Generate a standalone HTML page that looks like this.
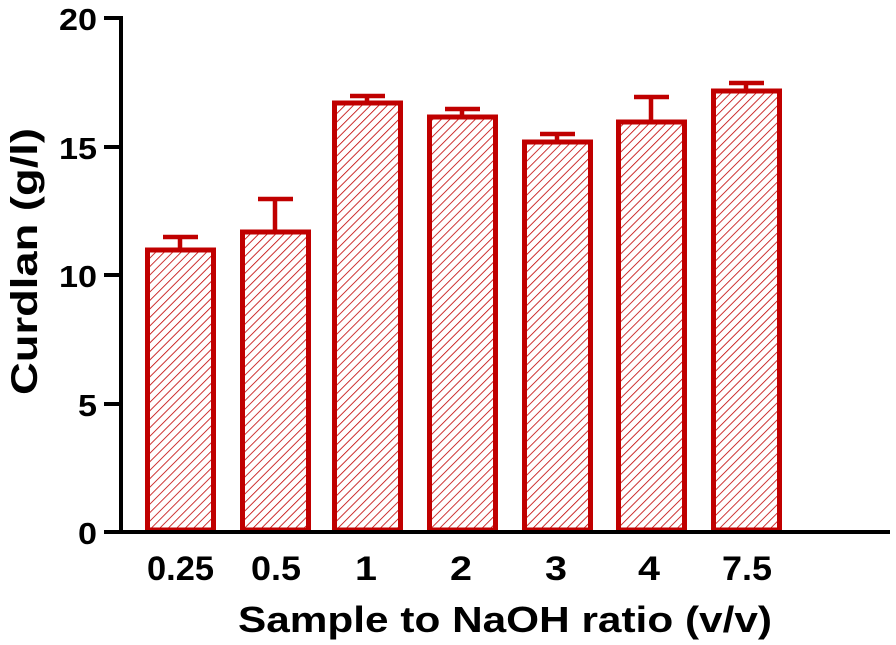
<!DOCTYPE html>
<html><head><meta charset="utf-8"><style>
html,body{margin:0;padding:0;background:#fff}
svg{display:block}
text{font-family:"Liberation Sans",Arial,sans-serif;font-weight:bold;fill:#000}
</style></head><body>
<svg width="896" height="645" viewBox="0 0 896 645" xmlns="http://www.w3.org/2000/svg">
<defs>
<pattern id="h" patternUnits="userSpaceOnUse" width="6" height="6" patternTransform="rotate(45)">
<line x1="0" y1="0" x2="0" y2="6" stroke="#c00000" stroke-width="1.6"/>
</pattern>
</defs>
<g stroke="#c00000" stroke-width="5" fill="url(#h)">
<rect x="147.5" y="250" width="66" height="280"/>
<rect x="242.5" y="232" width="66" height="298"/>
<rect x="334.5" y="103" width="66" height="427"/>
<rect x="429.5" y="117" width="66" height="413"/>
<rect x="524.5" y="142" width="66" height="388"/>
<rect x="618.5" y="122" width="66" height="408"/>
<rect x="713.5" y="91" width="66" height="439"/>
</g>
<g stroke="#c00000" stroke-width="4.5" fill="none">
<path d="M180 248V237M163 237H198"/>
<path d="M275 230V199M258 199H293"/>
<path d="M367 101V96M350 96H385"/>
<path d="M462 115V109M445 109H480"/>
<path d="M557 140V134M540 134H575"/>
<path d="M651 120V97M634 97H669"/>
<path d="M746 89V83M729 83H764"/>
</g>
<g stroke="#000" stroke-width="4" fill="none">
<path d="M121 16V532"/>
<path d="M104 532H890"/>
<path d="M104 18H121M104 147H121M104 275H121M104 404H121"/>
</g>
<g font-size="31" text-anchor="end">
<text x="97" y="30" textLength="38" lengthAdjust="spacingAndGlyphs">20</text>
<text x="97" y="159" textLength="38" lengthAdjust="spacingAndGlyphs">15</text>
<text x="97" y="287" textLength="38" lengthAdjust="spacingAndGlyphs">10</text>
<text x="97" y="416" textLength="19" lengthAdjust="spacingAndGlyphs">5</text>
<text x="97" y="544" textLength="19" lengthAdjust="spacingAndGlyphs">0</text>
</g>
<g font-size="34">
<text x="147" y="580" textLength="67" lengthAdjust="spacingAndGlyphs">0.25</text>
<text x="251" y="580" textLength="50" lengthAdjust="spacingAndGlyphs">0.5</text>
<text x="355" y="580" textLength="22" lengthAdjust="spacingAndGlyphs">1</text>
<text x="450" y="580" textLength="22" lengthAdjust="spacingAndGlyphs">2</text>
<text x="545" y="580" textLength="22" lengthAdjust="spacingAndGlyphs">3</text>
<text x="638" y="580" textLength="22" lengthAdjust="spacingAndGlyphs">4</text>
<text x="722" y="580" textLength="50" lengthAdjust="spacingAndGlyphs">7.5</text>
</g>
<text x="238" y="632" font-size="36" textLength="534" lengthAdjust="spacingAndGlyphs">Sample to NaOH ratio (v/v)</text>
<text transform="translate(37,395) rotate(-90)" font-size="37" textLength="267" lengthAdjust="spacingAndGlyphs">Curdlan (g/l)</text>
</svg>
</body></html>
